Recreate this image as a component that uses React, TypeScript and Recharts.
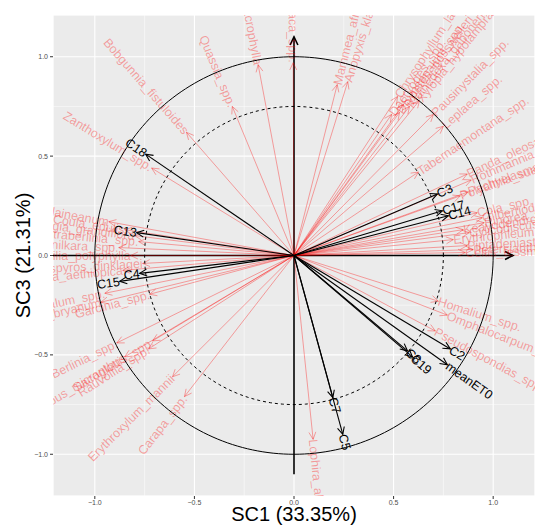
import React from 'react';
import { ScatterChart, Scatter, XAxis, YAxis, CartesianGrid, ReferenceLine, Label } from 'recharts';

// species loadings (red arrows)
const speciesNames = [
  'Bobgunnia_fistuloides', 'Quassia_spp.', 'Anthonotha_macrophylla', 'Uapaca_spp.', 'Mammea_africana',
  'Anopyxis_klaineana', 'Zanthoxylum_spp.', 'Chrysophyllum_lacourtianum', 'Synsepalum_spp.', 'Dacryodes_spp.',
  'Drypetes_gossweileri', 'Klainedoxa_gabonensis', 'Xylopia_hypolampra', 'Pausinystalia_spp.', 'Leplaea_spp.',
  'Tabernaemontana_spp.', 'Panda_oleosa', 'Rothmannia_spp.', 'Polyalthia_suaveolens', 'Pachyelasma_tessmannii',
  'Cola_spp.', 'Gilbertiodendron_spp.', 'Rinorea_spp.', 'Keayodendron_bridelioides', 'Cylicodiscus_gabunensis',
  'Erythrophleum_ivorense', 'Piptadeniastrum_africanum', 'Petersianthus_macrocarpus', 'Celtis_tessmannii', 'Homalium_spp.',
  'Omphalocarpum_spp.', 'Pseudospondias_spp.', 'Lophira_alata', 'Berlinia_spp.', 'Hexalobus_micranthus',
  'Sacoglottis_spp.', 'Rauvolfia_spp.', 'Erythroxylum_mannii', 'Carapa_spp.', 'Lecomtedoxa_klaineanum',
  'Coula_edulis', 'Irvingia_grandiflora', 'Tetraberlinia_spp.', 'Manilkara_spp.', 'Trichilia_polyphylla',
  'Diospyros_dinklagei', 'Xylopia_aethiopica', 'Dichapetalum_spp.', 'Tridesmostemon_bryanum', 'Garcinia_spp.',
];
const speciesX = [
  -0.54, -0.31, -0.18, -0.004, 0.217,
  0.27, -0.715, 0.52, 0.55, 0.49,
  0.53, 0.58, 0.63, 0.70, 0.75,
  0.625, 0.87, 0.89, 0.835, 0.875,
  0.92, 0.945, 0.955, 0.85, 0.88,
  0.80, 0.87, 0.90, 0.86, 0.725,
  0.77, 0.71, 0.096, -0.89, -0.85,
  -0.71, -0.73, -0.61, -0.55, -0.93,
  -0.85, -0.80, -0.78, -0.88, -0.82,
  -0.76, -0.86, -0.95, -0.97, -0.725,
];
const speciesY = [
  0.62, 0.75, 0.96, 0.97, 0.86,
  0.875, 0.44, 0.80, 0.76, 0.71,
  0.72, 0.75, 0.78, 0.71, 0.65,
  0.42, 0.41, 0.38, 0.30, 0.32,
  0.215, 0.19, 0.165, 0.13, 0.115,
  0.08, 0.05, 0.03, 0.015, -0.23,
  -0.30, -0.38, -0.925, -0.44, -0.51,
  -0.43, -0.47, -0.61, -0.71, 0.17,
  0.13, 0.10, 0.07, 0.04, 0.0,
  -0.04, -0.075, -0.19, -0.235, -0.195,
];

// climate variables (black arrows)
const climateNames = ['C18', 'C13', 'C4', 'C15', 'C3', 'C17', 'C14', 'C2', 'meanET0', 'C8', 'C19', 'C7', 'C5'];
const climateX = [-0.745, -0.79, -0.775, -0.875, 0.72, 0.745, 0.775, 0.785, 0.77, 0.57, 0.595, 0.195, 0.245];
const climateY = [0.51, 0.115, -0.09, -0.13, 0.31, 0.225, 0.2, -0.47, -0.55, -0.48, -0.51, -0.715, -0.9];

const majorTicks = [-1, -0.5, 0, 0.5, 1];
const minorTicks = [-0.75, -0.25, 0.25, 0.75];
const circleRadii = [1, 0.75];
const axisArrowEnd = 1.1;
const limit = 1.21;

const circlePoints = (r: number) =>
  Array.from({ length: 241 }, (_, i) => {
    const t = (i / 240) * 2 * Math.PI;
    return { x: r * Math.cos(t), y: r * Math.sin(t) };
  });

const fmt = (v: number) => (v < 0 ? '\u2212' + Math.abs(v).toFixed(1) : v.toFixed(1));

const makeArrow = (label: string, color: string, opacity: number, width: number, head: number) => (p: any) => {
  const { x1, y1, x2, y2, clipPath } = p;
  const ang = Math.atan2(y2 - y1, x2 - x1);
  const spread = Math.PI / 7;
  const hx1 = x2 - head * Math.cos(ang - spread);
  const hy1 = y2 - head * Math.sin(ang - spread);
  const hx2 = x2 - head * Math.cos(ang + spread);
  const hy2 = y2 - head * Math.sin(ang + spread);
  const right = x2 >= x1;
  let deg = (ang * 180) / Math.PI;
  if (!right) deg += 180;
  return (
    <g clipPath={clipPath}>
      <line x1={x1} y1={y1} x2={x2} y2={y2} stroke={color} strokeOpacity={opacity} strokeWidth={width} />
      <polyline
        points={`${hx1},${hy1} ${x2},${y2} ${hx2},${hy2}`}
        fill="none"
        stroke={color}
        strokeOpacity={opacity}
        strokeWidth={width}
      />
      {label ? (
        <text
          x={x2}
          y={y2}
          transform={`rotate(${deg} ${x2} ${y2})`}
          textAnchor={right ? 'start' : 'end'}
          dy="0.35em"
          fill={color}
          fillOpacity={opacity}
          fontSize={12.5}
        >
          {label}
        </text>
      ) : null}
    </g>
  );
};

const tickStyle = { fontSize: 7, fill: '#4D4D4D' };

export default function App() {
  return (
    <div
      style={{
        position: 'absolute',
        left: 0,
        top: 0,
        width: 536,
        height: 527,
        background: '#fff',
        fontFamily: '"Liberation Sans", Arial, sans-serif',
      }}
    >
      <ScatterChart width={536} height={527} margin={{ top: 15, right: 1, bottom: 0, left: 0 }}>
        <CartesianGrid fill="#EBEBEB" fillOpacity={1} stroke="#FFFFFF" strokeWidth={1.1} />
        <CartesianGrid xAxisId="minor" yAxisId="minor" stroke="#FFFFFF" strokeWidth={0.5} />
        <XAxis
          type="number"
          dataKey="x"
          domain={[-limit, limit]}
          allowDataOverflow
          ticks={majorTicks}
          tickFormatter={fmt}
          tick={tickStyle}
          tickSize={3}
          tickMargin={1}
          axisLine={false}
          tickLine={{ stroke: '#333333' }}
          height={31}
        >
          <Label
            content={(props: any) => {
              const vb = props.viewBox;
              return (
                <text x={vb.x + vb.width / 2} y={vb.y + vb.height - 6} textAnchor="middle" fontSize={20} fill="#000">
                  SC1 (33.35%)
                </text>
              );
            }}
          />
        </XAxis>
        <YAxis
          type="number"
          dataKey="y"
          domain={[-limit, limit]}
          allowDataOverflow
          ticks={majorTicks}
          tickFormatter={fmt}
          tick={tickStyle}
          tickSize={3}
          tickMargin={2}
          axisLine={false}
          tickLine={{ stroke: '#333333' }}
          width={53}
        >
          <Label
            content={(props: any) => {
              const vb = props.viewBox;
              const cx = vb.x + 30;
              const cy = vb.y + vb.height / 2;
              return (
                <text x={cx} y={cy} transform={`rotate(-90 ${cx} ${cy})`} textAnchor="middle" fontSize={20} fill="#000">
                  SC3 (21.31%)
                </text>
              );
            }}
          />
        </YAxis>
        <XAxis xAxisId="minor" type="number" dataKey="x" domain={[-limit, limit]} allowDataOverflow ticks={minorTicks} hide />
        <YAxis yAxisId="minor" type="number" dataKey="y" domain={[-limit, limit]} allowDataOverflow ticks={minorTicks} hide />

        {circleRadii.map((r, i) => (
          <Scatter
            key={'c' + r}
            data={circlePoints(r)}
            line={{ stroke: '#000', strokeWidth: 1, strokeDasharray: i === 0 ? undefined : '3 3' }}
            lineType="joint"
            shape={() => <g />}
            isAnimationActive={false}
          />
        ))}

        <ReferenceLine
          segment={[{ x: 0, y: -axisArrowEnd }, { x: 0, y: axisArrowEnd }]}
          ifOverflow="hidden"
          shape={makeArrow('', '#000', 1, 1.6, 9)}
        />
        <ReferenceLine
          segment={[{ x: -limit, y: 0 }, { x: axisArrowEnd, y: 0 }]}
          ifOverflow="hidden"
          shape={makeArrow('', '#000', 1, 1.6, 9)}
        />

        {speciesNames.map((n, i) => (
          <ReferenceLine
            key={n}
            segment={[{ x: 0, y: 0 }, { x: speciesX[i], y: speciesY[i] }]}
            ifOverflow="hidden"
            shape={makeArrow(n, '#FF0000', 0.35, 1, 8)}
          />
        ))}
        {climateNames.map((n, i) => (
          <ReferenceLine
            key={n}
            segment={[{ x: 0, y: 0 }, { x: climateX[i], y: climateY[i] }]}
            ifOverflow="hidden"
            shape={makeArrow(n, '#000000', 1, 1.1, 8)}
          />
        ))}
      </ScatterChart>
    </div>
  );
}
